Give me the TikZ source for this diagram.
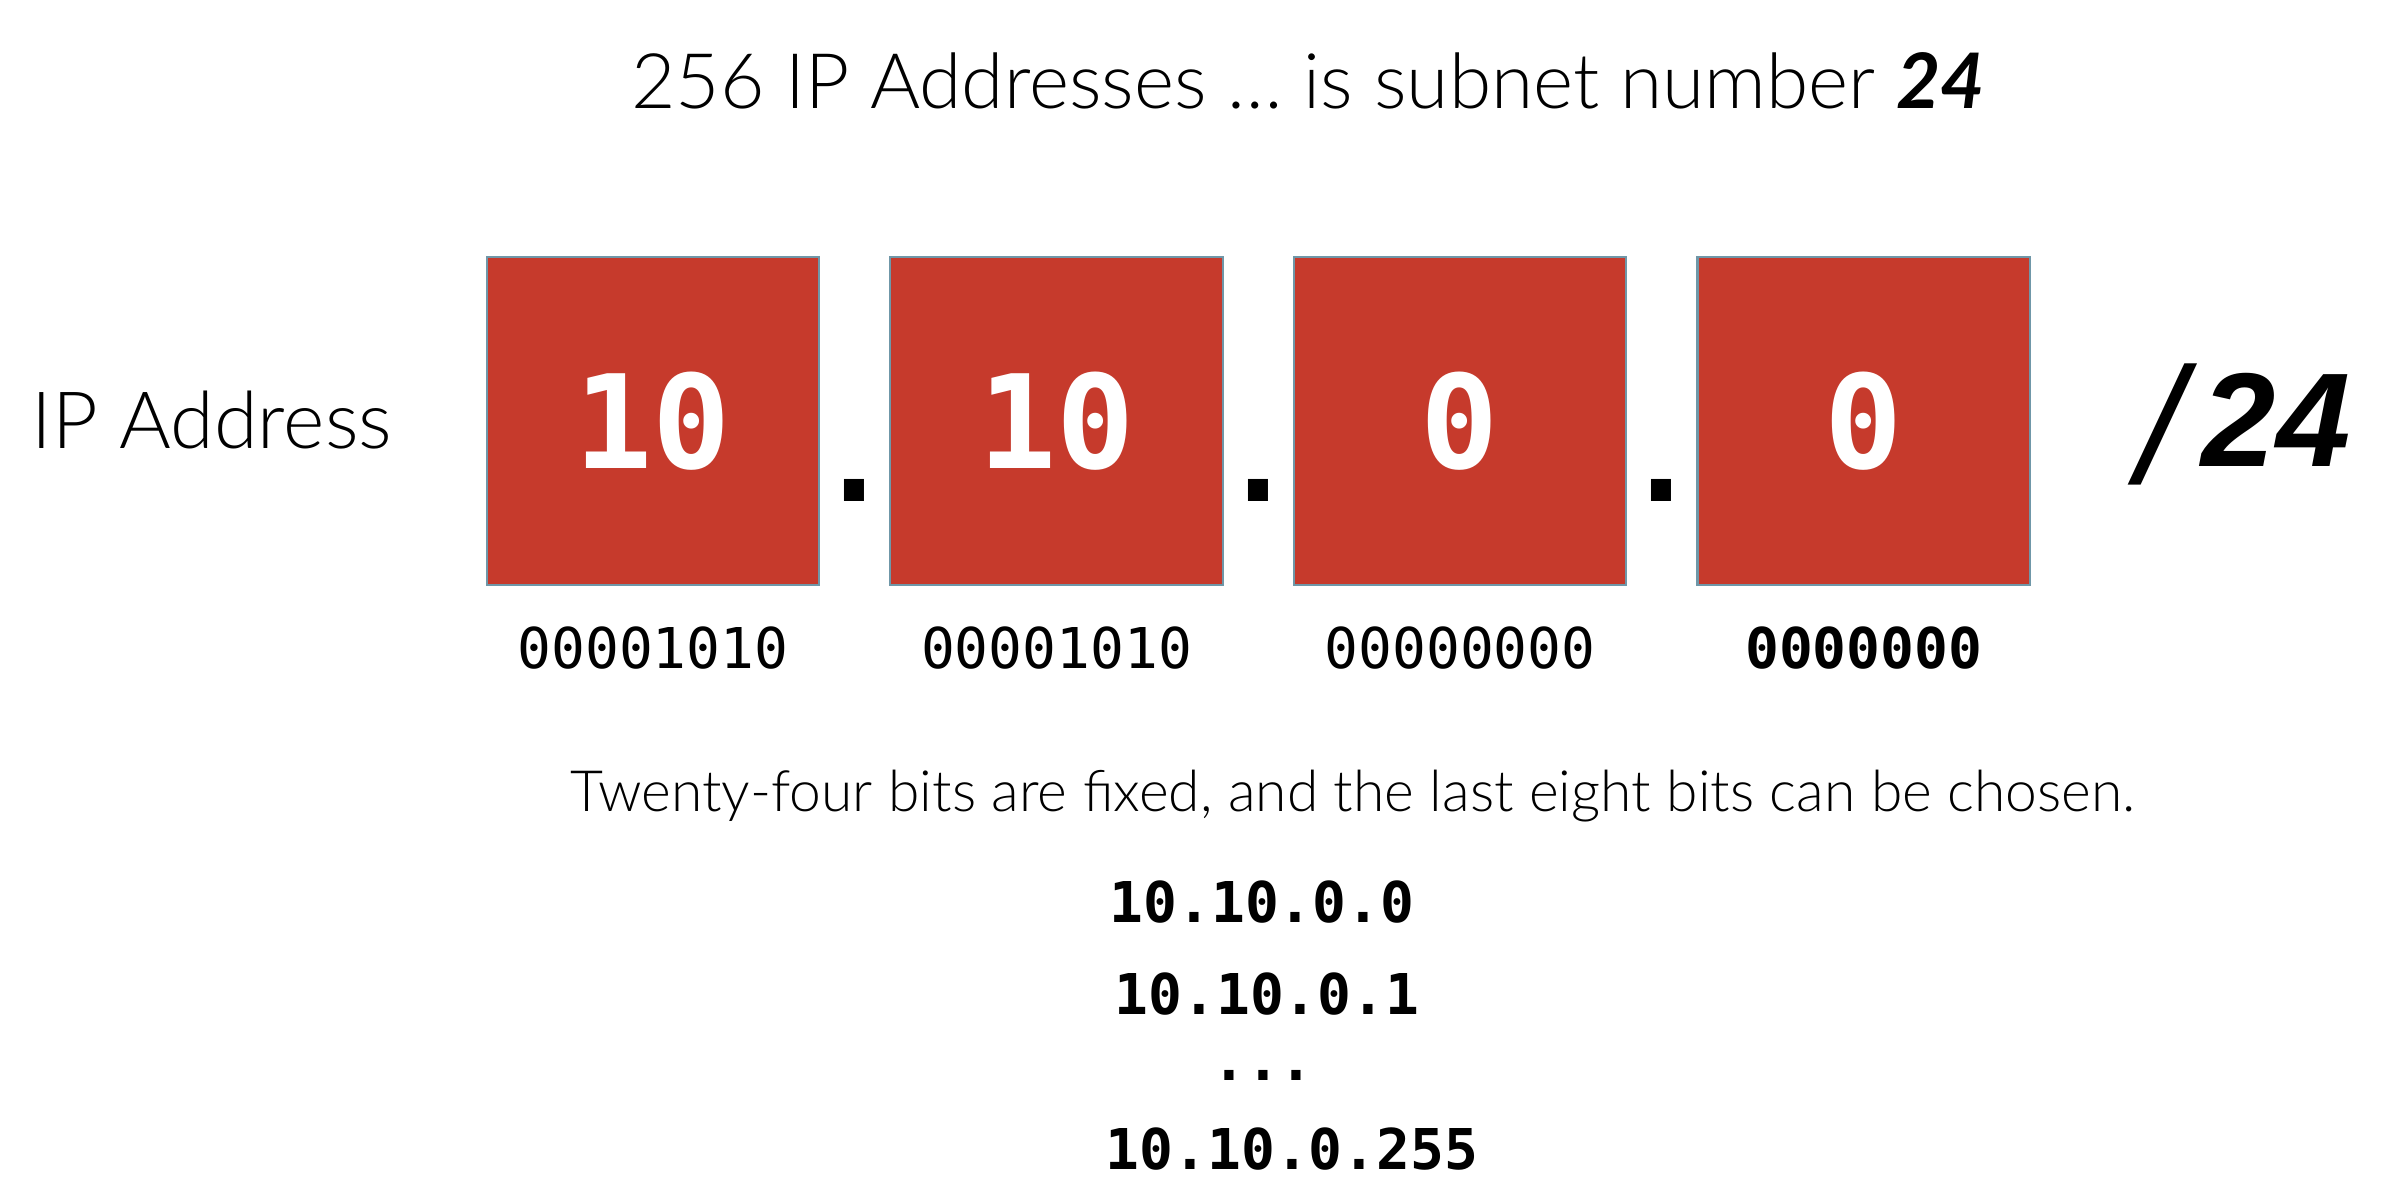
\documentclass[tikz,border=0pt]{standalone}
\usepackage{fontspec}
\setmainfont{Lato}[UprightFont=* Light,ItalicFont=* Light Italic,BoldFont=* Bold,BoldItalicFont=* Bold Italic]
\newfontfamily\monofont{DejaVu Sans Mono}
\newfontfamily\slashfont{Liberation Sans}
\usetikzlibrary{positioning,calc}
\definecolor{octred}{HTML}{C63A2C}
\definecolor{octline}{HTML}{6F97A8}
\begin{document}
\begin{tikzpicture}[octet/.style={shape=rectangle,draw=octline,fill=octred,line width=0.6pt,minimum width=3.325cm,minimum height=3.28cm,inner sep=0pt,text=white,font=\monofont\bfseries\fontsize{37}{42}\selectfont},bits/.style={font=\monofont\fontsize{16}{20}\selectfont},bitsB/.style={bits,font=\monofont\bfseries\fontsize{16}{20}\selectfont},sep/.style={font=\monofont\bfseries\fontsize{35}{40}\selectfont,inner sep=0pt},addr/.style={bitsB}]
\def\dx{4.036};
\def\xa{6.529};
\def\yb{7.81};

\useasboundingbox (0,0) rectangle (24.02,12.02);

\node (title) at (13.08,11.21) {\fontsize{21.8}{26}\selectfont 256 IP Addresses … is subnet number \textbf{\textit{24}}};
\node (ip) at (2.12,7.82) {\fontsize{22.5}{27}\selectfont IP Address};

\node[octet] (b1) at (\xa,\yb) {10};
\node[octet] (b2) at (\xa+\dx,\yb) {10};
\node[octet] (b3) at (\xa+2*\dx,\yb) {0};
\node[octet] (b4) at (\xa+3*\dx,\yb) {0};

\node[sep] (d1) at ($($(b1.east)!0.5!(b2.west)$)+(0,-0.70)$) {.};
\node[sep] (d2) at ($($(b2.east)!0.5!(b3.west)$)+(0,-0.70)$) {.};
\node[sep] (d3) at ($($(b3.east)!0.5!(b4.west)$)+(0,-0.70)$) {.};

\node[anchor=base east,inner sep=0pt] (mask) at (23.51,7.355) {\slashfont\itshape\raisebox{-0.17cm}{\fontsize{47}{52}\selectfont /}\hspace{0.18cm}{\bfseries\fontsize{38}{42}\selectfont 24}};

\node[bits,below=0.28cm of b1] (n1) {00001010};
\node[bits,below=0.28cm of b2] (n2) {00001010};
\node[bits,below=0.28cm of b3] (n3) {00000000};
\node[bitsB,below=0.28cm of b4] (n4) {0000000};

\node (note) at (13.53,4.06) {\fontsize{16.2}{20}\selectfont Twenty-four bits are fixed, and the last eight bits can be chosen.};

\node[addr] (a1) at (12.62,3.00) {10.10.0.0};
\node[addr] (a2) at (12.67,2.08) {10.10.0.1};
\node[addr,anchor=base] (a3) at (12.63,1.21) {...};
\node[addr] (a4) at (12.92,0.525) {10.10.0.255};
\end{tikzpicture}
\end{document}
